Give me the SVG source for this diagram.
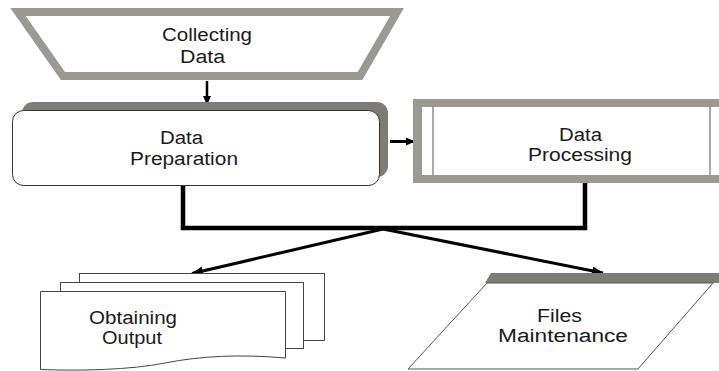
<svg xmlns="http://www.w3.org/2000/svg" width="719" height="371" viewBox="0 0 719 371">
<style>
.t{font-family:"Liberation Sans",Arial,sans-serif;font-size:18px;fill:#1a1a1a}
.page{fill:#fff;stroke:#444;stroke-width:1}
.ln{fill:none;stroke:#000}
</style>
<defs>
<marker id="ah" markerUnits="userSpaceOnUse" markerWidth="12" markerHeight="9" refX="11" refY="4.5" orient="auto">
<path d="M0,0 L12,4.5 L0,9 z" fill="#000"/>
</marker>
<marker id="ahs" markerUnits="userSpaceOnUse" markerWidth="9" markerHeight="8" refX="9" refY="4" orient="auto">
<path d="M0,0 L9,4 L0,8 z" fill="#000"/>
</marker>
</defs>
<rect width="719" height="371" fill="#fff"/>

<g id="connectors">
<line class="ln" x1="207" y1="81" x2="207" y2="105" stroke-width="2.5" marker-end="url(#ahs)"/>
<line class="ln" x1="390" y1="141.5" x2="415" y2="141.5" stroke-width="3" marker-end="url(#ahs)"/>
<polyline class="ln" points="183,186 183,228 585,228 585,183" stroke-width="4.5"/>
<line class="ln" x1="383" y1="229" x2="192" y2="273.5" stroke-width="3" marker-end="url(#ah)"/>
<line class="ln" x1="383" y1="229" x2="603" y2="273" stroke-width="3" marker-end="url(#ah)"/>
</g>

<g id="collecting">
<polygon points="18,12 397,12 360,76 63,76" fill="#fff" stroke="#9c9993" stroke-width="8"/>
<text class="t" x="162" y="40.5" textLength="90" lengthAdjust="spacingAndGlyphs">Collecting</text>
<text class="t" x="180" y="63" textLength="45" lengthAdjust="spacingAndGlyphs">Data</text>
</g>

<g id="preparation">
<rect x="22" y="102" width="366" height="75" rx="11" fill="#7f7b76"/>
<rect x="12.5" y="110.5" width="367" height="75" rx="11" fill="#fff" stroke="#333" stroke-width="1"/>
<text class="t" x="160" y="143.5" textLength="43" lengthAdjust="spacingAndGlyphs">Data</text>
<text class="t" x="130" y="164.5" textLength="108" lengthAdjust="spacingAndGlyphs">Preparation</text>
</g>

<g id="processing">
<rect x="413" y="99" width="312" height="84" fill="#9c9993"/>
<rect x="422" y="107" width="303" height="68" fill="#fff"/>
<line x1="433" y1="107" x2="433" y2="175" stroke="#555" stroke-width="1"/>
<line x1="710" y1="107" x2="710" y2="175" stroke="#555" stroke-width="1"/>
<text class="t" x="559" y="141" textLength="43" lengthAdjust="spacingAndGlyphs">Data</text>
<text class="t" x="528" y="161" textLength="104" lengthAdjust="spacingAndGlyphs">Processing</text>
</g>

<g id="output">
<rect class="page" x="79.5" y="273.5" width="245" height="67"/>
<rect class="page" x="60.5" y="282.5" width="243" height="66"/>
<path class="page" d="M40.5,291.5 H285.5 V358 C240,354 200,356 165,363 C130,370 80,371 40.5,369.5 Z"/>
<text class="t" x="89" y="323.5" textLength="88" lengthAdjust="spacingAndGlyphs">Obtaining</text>
<text class="t" x="102" y="343.5" textLength="60" lengthAdjust="spacingAndGlyphs">Output</text>
</g>

<g id="files">
<polygon points="491,273 719,273 719,283 485,283" fill="#7f7b76"/>
<polygon points="487,283 713,283 638,369 408,369" fill="#fff" stroke="#555" stroke-width="1"/>
<text class="t" x="537" y="322" textLength="45" lengthAdjust="spacingAndGlyphs">Files</text>
<text class="t" x="498" y="342" textLength="130" lengthAdjust="spacingAndGlyphs">Maintenance</text>
</g>
</svg>
